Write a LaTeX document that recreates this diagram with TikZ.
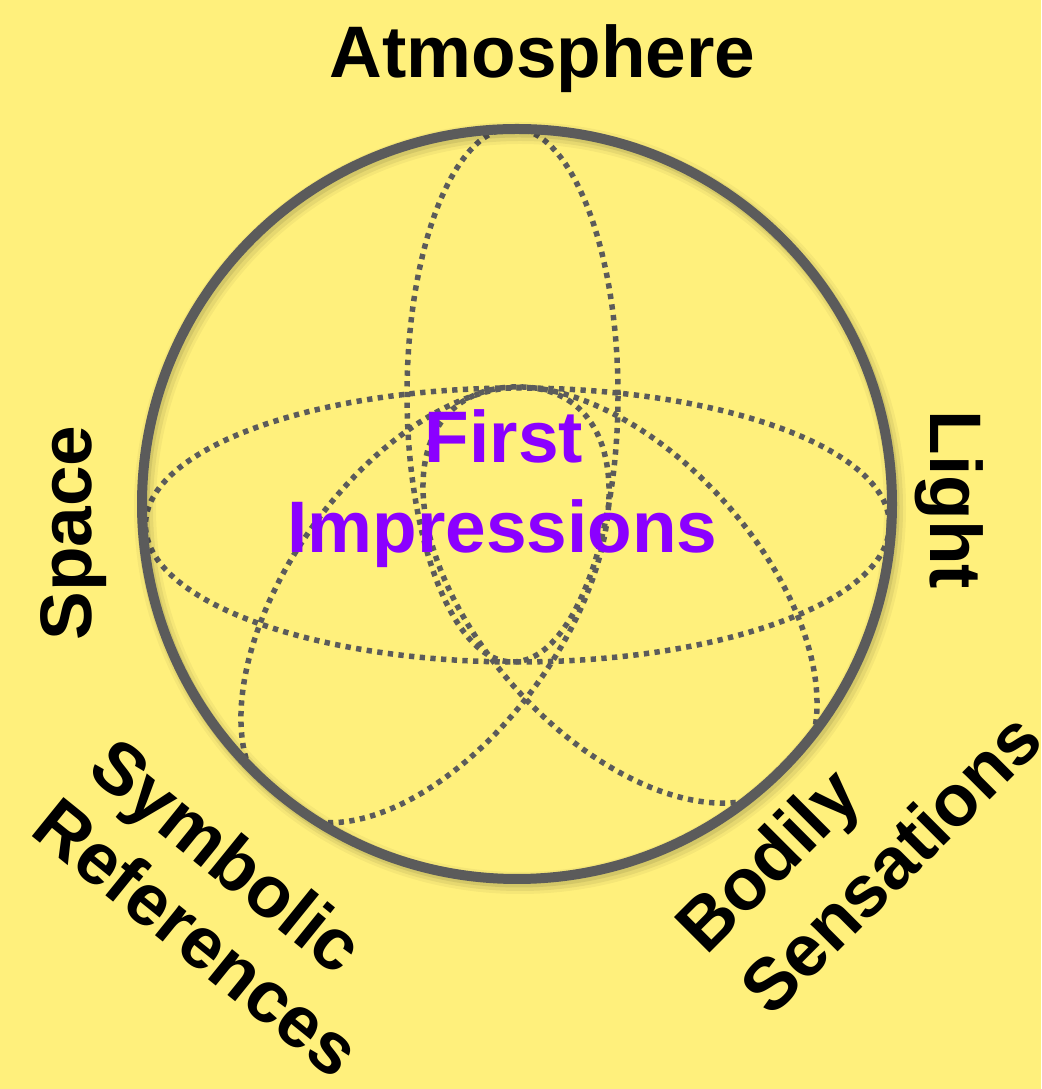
\documentclass[tikz,border=0pt]{standalone}
\usepackage{fontspec}
\setmainfont{Liberation Sans}
\definecolor{bgyellow}{HTML}{FFF07C}
\definecolor{ringgray}{HTML}{5B5B5B}
\definecolor{fipurple}{HTML}{8B00FF}
\begin{document}
\begin{tikzpicture}[x=1pt,y=1pt,
  lbl/.style={inner sep=0pt, font=\bfseries\fontsize{73}{88}\selectfont, text=black},
  fi/.style={inner sep=0pt, font=\bfseries\fontsize{73}{88}\selectfont, text=fipurple},
  dotline/.style={draw=ringgray, line width=5.5pt, dash pattern=on 5.3pt off 5.4pt}]
\useasboundingbox (0,0) rectangle (1041,1089);
\fill[bgyellow] (0,0) rectangle (1041,1089);
\coordinate (C) at (517,585);
% dotted ellipses clipped to the ring
\begin{scope}
  \clip (C) circle (375pt);
  \draw[dotline] (517.5,564) ellipse [x radius=372pt, y radius=137pt];
  \draw[dotline] (512.5,694) ellipse [x radius=105.5pt, y radius=267pt];
  \draw[dotline, rotate around={54:(425,484)}] (425,484) ellipse [x radius=250pt, y radius=137pt];
  \draw[dotline, rotate around={-48:(620,494)}] (620,494) ellipse [x radius=250pt, y radius=140pt];
\end{scope}
% soft shadow of the ring, offset down and right
\draw[black, opacity=0.04, line width=22pt] (520,581) circle (375pt);
\draw[black, opacity=0.06, line width=16pt] (520,581) circle (375pt);
\draw[black, opacity=0.08, line width=11pt] (519,582) circle (375pt);
% ring
\draw[ringgray, line width=10pt] (C) circle (375pt);
% labels
\node[lbl, anchor=base] (atm) at (542.5,1011) {Atmosphere};
\node[lbl, rotate=90, anchor=base] (space) at (91,556) {Space};
\node[lbl, rotate=-90, anchor=base] (light) at (930,589) {Light};
\node[fi, anchor=base] (first) at (504,626) {First};
\node[fi, anchor=base] (impr) at (502.5,536) {Impressions};
\node[lbl, rotate=-39, anchor=base west] (symb) at (85,316) {Symbolic};
\node[lbl, rotate=-39, anchor=base west] (refs) at (28,256) {References};
\node[lbl, rotate=45, anchor=base west] (bod) at (706,132) {Bodily};
\node[lbl, rotate=45, anchor=base west] (sens) at (771,70) {Sensations};
\end{tikzpicture}
\end{document}
